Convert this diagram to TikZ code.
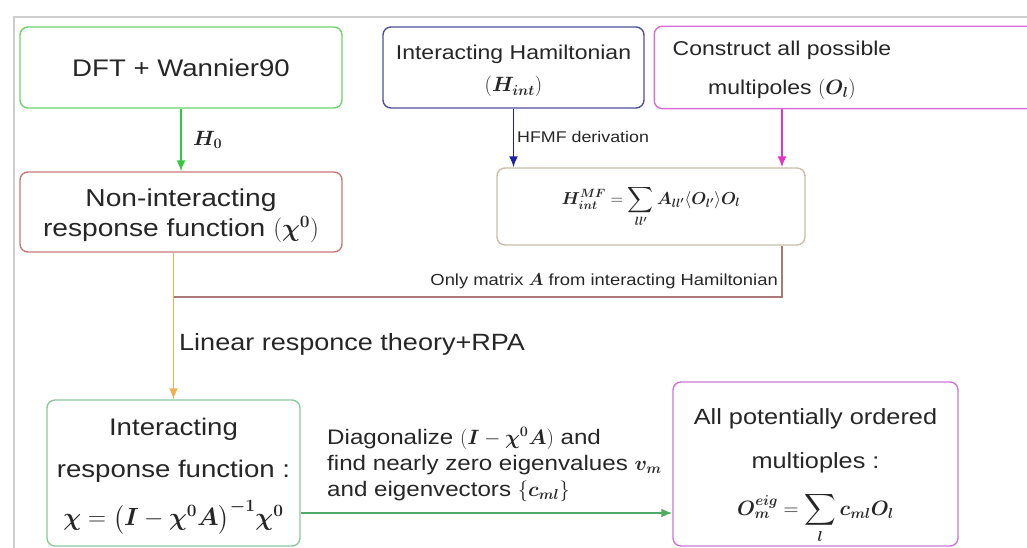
\documentclass[tikz,border=0pt]{standalone}
\usepackage{amsmath,amssymb,bm}
\usepackage{fontspec}
\setmainfont[FakeStretch=1.15]{Liberation Sans}
\usetikzlibrary{arrows.meta}

\definecolor{dftgreen}{RGB}{110,210,110}
\definecolor{hintblue}{RGB}{80,80,150}
\definecolor{mpolepink}{RGB}{215,110,215}
\definecolor{nonintred}{RGB}{200,120,120}
\definecolor{hmftan}{RGB}{200,190,170}
\definecolor{respgreen}{RGB}{140,200,160}
\definecolor{ordviolet}{RGB}{200,120,210}
\definecolor{arrgreen}{RGB}{50,200,60}
\definecolor{arrblue}{RGB}{30,30,170}
\definecolor{arrpink}{RGB}{230,50,200}
\definecolor{arrorange}{RGB}{240,175,80}
\definecolor{arrgreenb}{RGB}{80,170,100}
\definecolor{joinred}{RGB}{170,120,120}
\definecolor{framegray}{RGB}{205,205,205}

\begin{document}
\begin{tikzpicture}[x=1pt,y=-1pt,
    box/.style={draw,rounded corners=8pt,line width=1.4pt,align=center,inner sep=0pt,text=black!85},
    lbl/.style={inner sep=0pt,text=black!85},
    flow/.style={line width=1.8pt,-{Latex[length=11pt,width=9pt]}}]
  \useasboundingbox (0,0) rectangle (1027,548);
  \draw[framegray,line width=1.5pt] (14,548) -- (14,17) -- (1027,17);

  % top row
  \node[box,draw=dftgreen,minimum width=322pt,minimum height=81pt,
        font=\fontsize{24}{29}\selectfont] (dft) at (181,67.5) {DFT + Wannier90};
  \node[box,draw=hintblue,minimum width=261pt,minimum height=81pt,
        font=\fontsize{20}{32}\selectfont] (hint) at (513.5,67.5)
        {\rule{0pt}{22pt}Interacting Hamiltonian\\$(\bm{H_{int}})$};
  \node[box,draw=none,minimum width=254pt,minimum height=81pt,
        font=\fontsize{20}{39}\selectfont] (mpole) at (782,67.5)
        {\rule{0pt}{20pt}Construct all possible\\multipoles $(\bm{O_l})$};
  \draw[mpolepink,line width=1.4pt,rounded corners=8pt]
        (mpole.north west) rectangle ([xshift=140pt]mpole.south east);

  % second row
  \node[box,draw=nonintred,minimum width=322pt,minimum height=80pt,
        font=\fontsize{24.5}{30}\selectfont] (nonint) at (181,212)
        {\rule{0pt}{26pt}Non-interacting\\response function $(\bm{\chi}^{\bm 0})$};
  \node[box,draw=hmftan,minimum width=308pt,minimum height=77pt,
        font=\fontsize{18}{22}\selectfont] (hmf) at (651,206.5)
        {$\bm{H}^{\bm{MF}}_{\bm{int}} = \displaystyle\sum_{\bm{ll'}}\bm{A_{ll'}}\langle\bm{O_{l'}}\rangle\bm{O_l}$};

  % bottom row
  \node[box,draw=respgreen,minimum width=253pt,minimum height=146pt,
        font=\fontsize{24}{42}\selectfont] (intresp) at (173.5,473)
        {\rule{0pt}{24pt}Interacting\\response function :\\[6pt]$\bm{\chi} = \bigl(\bm{I} - \bm{\chi}^{\bm 0}\bm{A}\bigr)^{\bm{-1}}\bm{\chi}^{\bm 0}$};
  \node[box,draw=ordviolet,minimum width=285pt,minimum height=164pt,
        font=\fontsize{22}{44}\selectfont] (allord) at (815.5,464)
        {\rule{0pt}{40pt}All potentially ordered\\multioples :\\[3pt]$\bm{O}^{\bm{eig}}_{\bm m} = \displaystyle\sum_{\bm l}\bm{c_{ml}}\bm{O_l}$};

  % arrows
  \draw[flow,arrgreen] (dft.south) -- (nonint.north);
  \node[lbl,anchor=west,font=\fontsize{20}{24}\selectfont] (hzero) at (193,140) {$\bm{H_0}$};
  \draw[flow,arrblue] (hint.south) -- (hint.south |- hmf.north);
  \node[lbl,anchor=west,font=\fontsize{15.5}{18}\selectfont] (hfmf) at (517,137) {HFMF derivation};
  \draw[flow,arrpink] (mpole.south) -- (mpole.south |- hmf.north);

  \coordinate (corner) at (mpole.south |- 0,297);
  \coordinate (join) at (intresp.north |- 0,297);
  \draw[joinred,line width=1.4pt] (mpole.south |- hmf.south) -- (corner) -- (join);
  \node[lbl,anchor=east,font=\fontsize{16}{19}\selectfont] (onlya) at (778,281)
        {Only matrix $\bm{A}$ from interacting Hamiltonian};

  \draw[flow,arrorange] (intresp.north |- nonint.south) -- (intresp.north);
  \node[lbl,anchor=west,font=\fontsize{23.5}{28}\selectfont] (lrt) at (179,344)
        {Linear responce theory+RPA};

  \draw[flow,arrgreenb] (intresp.east |- 0,513) -- (allord.west |- 0,513);
  \node[lbl,anchor=north west,align=left,font=\fontsize{21}{26}\selectfont] (diag) at (327,427)
        {Diagonalize $(\bm{I} - \bm{\chi}^{\bm 0}\bm{A})$ and\\
         find nearly zero eigenvalues $\bm{v_m}$\\
         and eigenvectors $\{\bm{c_{ml}}\}$};
\end{tikzpicture}
\end{document}
